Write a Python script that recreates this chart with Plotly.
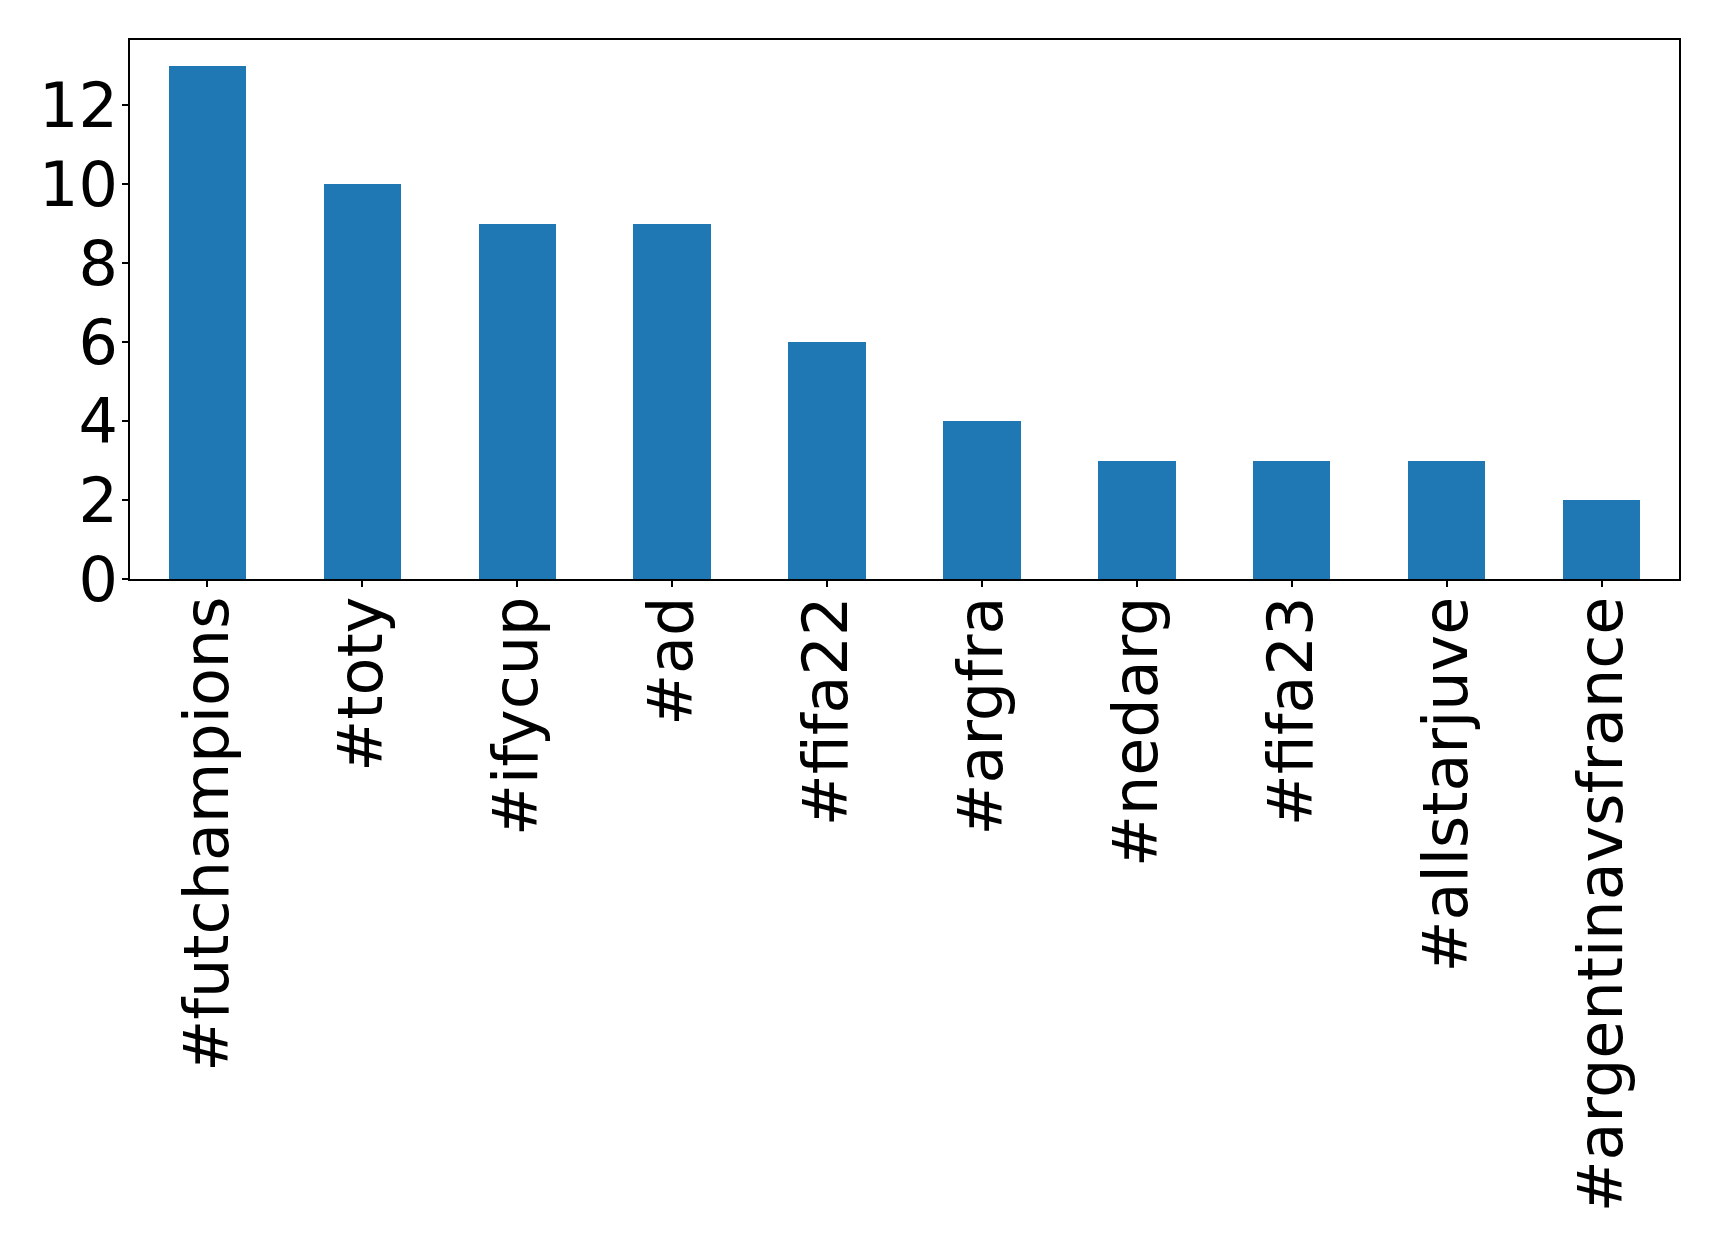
import plotly.graph_objects as go

categories = ["#futchampions", "#toty", "#ifycup", "#ad", "#fifa22", "#argfra",
              "#nedarg", "#fifa23", "#allstarjuve", "#argentinavsfrance"]
counts = [13, 10, 9, 9, 6, 4, 3, 3, 3, 2]
y_ticks = [0, 2, 4, 6, 8, 10, 12]

fig = go.Figure(go.Bar(x=list(range(len(categories))), y=counts, width=0.5,
                       marker=dict(color="#1f77b4", line=dict(width=0))))

font = dict(family="DejaVu Sans", size=62, color="black")
fig.update_layout(
    width=1711, height=1241,
    margin=dict(l=122, r=40, t=32, b=670),
    paper_bgcolor="white", plot_bgcolor="white",
    showlegend=False, bargap=0,
)
fig.update_xaxes(range=[-0.5, 9.5], tickmode="array",
                 tickvals=list(range(len(categories))), ticktext=categories,
                 tickangle=-90, tickfont=font, showgrid=False, zeroline=False,
                 showline=True, linecolor="black", linewidth=1.5, mirror=True,
                 ticks="outside", ticklen=6, tickwidth=1.5, tickcolor="black",
                 ticklabelstandoff=-15)
fig.update_yaxes(range=[0, 13.65], tickmode="array", tickvals=y_ticks,
                 tickfont=font, showgrid=False, zeroline=False,
                 showline=True, linecolor="black", linewidth=1.5, mirror=True,
                 ticks="outside", ticklen=6, tickwidth=1.5, tickcolor="black",
                 ticklabelstandoff=-8)

fig.write_html("out.html")
